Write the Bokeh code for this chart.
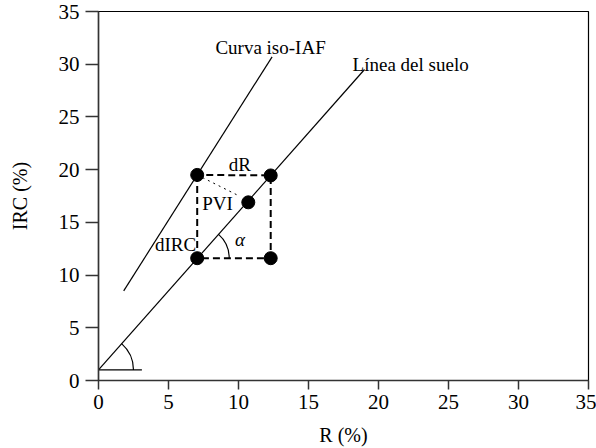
from bokeh.plotting import figure
from bokeh.models import FixedTicker, Range1d
from bokeh.core.properties import value
from bokeh.embed import file_html
from bokeh.resources import INLINE

# Soil line and iso-LAI curve (R %, IRC %)
soil_r = [0.0, 19.0]
soil_irc = [1.0, 29.5]
iso_r = [1.8, 12.4]
iso_irc = [8.5, 30.7]

# Marked points: corners of the dR x dIRC box and the PVI point
pt_r = [7.05, 12.3, 7.05, 12.3, 10.7]
pt_irc = [11.6, 11.6, 19.5, 19.45, 16.9]

# Dashed box corners
box_r = [7.05, 7.05, 12.3, 12.3, 7.05]
box_irc = [19.5, 11.6, 11.6, 19.45, 19.5]

# Perpendicular from iso curve towards the PVI point
pvi_r = [7.05, 9.9]
pvi_irc = [19.5, 17.6]

# Base of the slope angle at the origin
base_r = [0.0, 3.1]
base_irc = [1.0, 1.0]

ticks = [0, 5, 10, 15, 20, 25, 30, 35]

FONT = "Liberation Serif"
ANN = "19px"

p = figure(width=596, height=448, output_backend="svg", toolbar_location=None,
           x_range=Range1d(0, 35), y_range=Range1d(0, 35),
           min_border_left=98, min_border_right=8, min_border_top=11,
           min_border_bottom=67)
p.background_fill_color = "white"
p.border_fill_color = "white"
p.outline_line_color = "black"
p.outline_line_width = 1.2
p.xgrid.visible = False
p.ygrid.visible = False

for ax in (p.xaxis[0], p.yaxis[0]):
    ax.ticker = FixedTicker(ticks=ticks)
    ax.minor_tick_line_color = None
    ax.major_tick_in = 0
    ax.axis_line_color = "#333333"
    ax.axis_line_width = 1.5
    ax.major_tick_line_color = "#333333"
    ax.major_tick_line_width = 1.5
    ax.major_label_text_font = FONT
    ax.major_label_text_font_size = "21px"
    ax.major_label_text_color = "black"
    ax.axis_label_text_font = FONT
    ax.axis_label_text_font_size = "20px"
    ax.axis_label_text_font_style = "normal"
    ax.axis_label_text_color = "black"

p.xaxis.major_tick_out = 9
p.yaxis.major_tick_out = 13
p.xaxis.major_label_standoff = 5
p.yaxis.major_label_standoff = 6
p.xaxis.axis_label = "R (%)"
p.yaxis.axis_label = "IRC (%)"
p.xaxis.axis_label_standoff = 12
p.yaxis.axis_label_standoff = 25

p.line(soil_r, soil_irc, line_color="black", line_width=1.2)
p.line(iso_r, iso_irc, line_color="black", line_width=1.2)
p.line(base_r, base_irc, line_color="black", line_width=1.2)
p.line(box_r, box_irc, line_color="black", line_width=2, line_dash="7 4")
p.line(pvi_r, pvi_irc, line_color="black", line_width=1, line_dash="2 4")

# Angle arcs (slope of the soil line and alpha)
p.arc(x=[soil_r[0]], y=[soil_irc[0]], radius=35, radius_units="screen",
      start_angle=0, end_angle=0.85, line_color="black", line_width=1.2)
p.arc(x=[pt_r[0]], y=[pt_irc[0]], radius=32, radius_units="screen",
      start_angle=0, end_angle=0.85, line_color="black", line_width=1.2)

p.scatter(pt_r, pt_irc, size=13, color="black")

p.text(x=[8.35], y=[31.6], text=["Curva iso-IAF"], text_font=value(FONT),
       text_font_size=ANN, text_baseline="middle", text_align="left")
p.text(x=[18.15], y=[30.0], text=["Línea del suelo"], text_font=value(FONT),
       text_font_size=ANN, text_baseline="middle", text_align="left")
p.text(x=[10.1], y=[20.5], text=["dR"], text_font=value(FONT),
       text_font_size=ANN, text_baseline="middle", text_align="center")
p.text(x=[8.5], y=[16.8], text=["PVI"], text_font=value(FONT),
       text_font_size=ANN, text_baseline="middle", text_align="center")
p.text(x=[5.5], y=[12.9], text=["dIRC"], text_font=value(FONT),
       text_font_size=ANN, text_baseline="middle", text_align="center")
p.text(x=[10.1], y=[13.4], text=["α"], text_font=value(FONT),
       text_font_size=ANN, text_font_style="italic",
       text_baseline="middle", text_align="center")

open("out.html", "w").write(file_html(p, INLINE))
